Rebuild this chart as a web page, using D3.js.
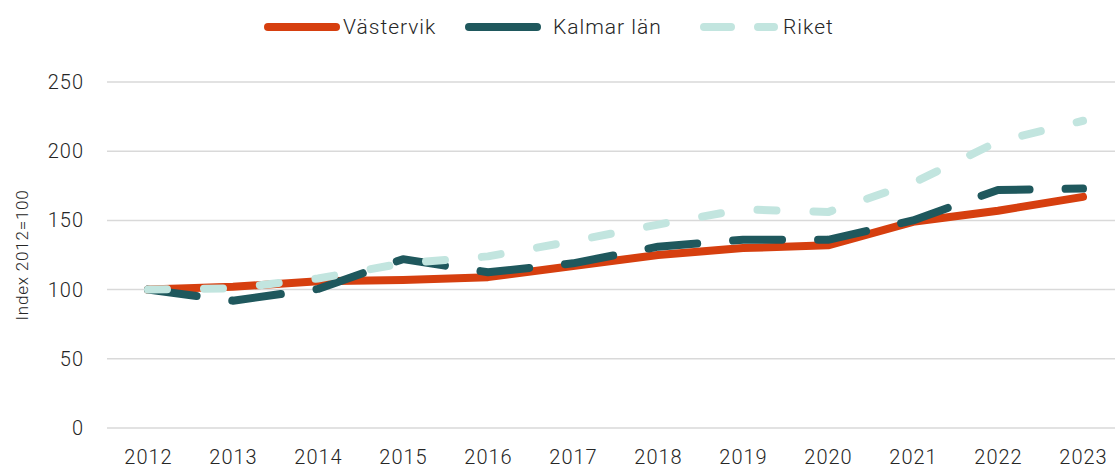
<!DOCTYPE html>
<html>
<head>
<meta charset="utf-8">
<script src="https://cdn.jsdelivr.net/npm/d3@7"></script>
<style>
  body { margin: 0; background: #fff; }
  svg text { font-family: Roboto, "Open Sans", sans-serif; font-weight: 300; fill: #262626; }
</style>
</head>
<body>
<svg id="chart" width="1115" height="468"></svg>
<script>
var years = ["2012","2013","2014","2015","2016","2017","2018","2019","2020","2021","2022","2023"];
var vastervik = [100, 102, 106, 107, 109, 117, 125, 130, 132, 149, 157, 167];
var kalmar = [100, 92, 100.5, 122, 112.5, 119, 131, 136, 136, 150, 172, 173];
var riket = [100, 101, 108, 119, 124, 135, 147, 158, 156, 177, 207, 222];
var yTicks = [0, 50, 100, 150, 200, 250];

var series = [
  {name: "Västervik", values: vastervik, color: "#d63f0f", dash: null},
  {name: "Kalmar län", values: kalmar, color: "#1f585d", dash: "49,36"},
  {name: "Riket", values: riket, color: "#c2e5df", dash: "19,37"}
];

var svg = d3.select("#chart");

var x = d3.scalePoint()
  .domain(years)
  .range([148, 1083]);

var y = d3.scaleLinear()
  .domain([0, 250])
  .range([428, 82]);

// grid
svg.append("g")
  .selectAll("line")
  .data(yTicks)
  .enter().append("line")
  .attr("x1", 107)
  .attr("x2", 1115)
  .attr("y1", function(d){ return y(d); })
  .attr("y2", function(d){ return y(d); })
  .attr("stroke", "#d9d9d9")
  .attr("stroke-width", 1.5);

// y labels
svg.append("g")
  .selectAll("text")
  .data(yTicks)
  .enter().append("text")
  .attr("x", 84)
  .attr("y", function(d){ return y(d); })
  .attr("dy", ".35em")
  .attr("text-anchor", "end")
  .attr("font-size", 20)
  .attr("letter-spacing", 1)
  .text(function(d){ return d; });

// x labels
svg.append("g")
  .selectAll("text")
  .data(years)
  .enter().append("text")
  .attr("x", function(d){ return x(d) + 0.5; })
  .attr("y", 457)
  .attr("dy", ".35em")
  .attr("text-anchor", "middle")
  .attr("font-size", 20)
  .attr("letter-spacing", 1)
  .text(function(d){ return d; });

svg.append("text")
  .attr("transform", "translate(" + 22 + "," + 255 + ") rotate(-90)")
  .attr("dy", ".35em")
  .attr("text-anchor", "middle")
  .attr("font-size", 17)
  .attr("letter-spacing", 0.8)
  .text("Index 2012=100");

var line = d3.line()
  .x(function(d, i){ return x(years[i]); })
  .y(function(d){ return y(d); });

series.forEach(function(s){
  svg.append("path")
    .datum(s.values)
    .attr("d", line)
    .attr("fill", "none")
    .attr("stroke", s.color)
    .attr("stroke-width", 8)
    .attr("stroke-linecap", "round")
    .attr("stroke-linejoin", "round")
    .attr("stroke-dasharray", s.dash);
});

// legend
var legendX = [268, 469, 704];
var legend = svg.append("g");
series.forEach(function(s, i){
  var g = legend.append("g").attr("transform", "translate(" + legendX[i] + ",27)");
  g.append("line")
    .attr("x1", 0).attr("x2", i === 2 ? 70 : 68)
    .attr("y1", 0).attr("y2", 0)
    .attr("stroke", s.color)
    .attr("stroke-width", 8)
    .attr("stroke-linecap", "round")
    .attr("stroke-dasharray", i === 2 ? "27,27" : null);
  g.append("text")
    .attr("x", i === 1 ? 84 : (i === 2 ? 79 : 75))
    .attr("y", 0)
    .attr("dy", ".35em")
    .attr("font-size", 21)
    .attr("letter-spacing", 1)
    .text(s.name);
});
</script>
</body>
</html>
